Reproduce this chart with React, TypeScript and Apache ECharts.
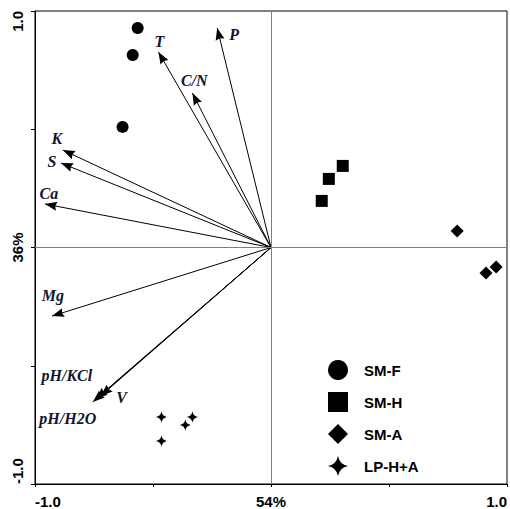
import React, { useEffect, useRef } from "react";
import * as echarts from "echarts";

// Environmental variable arrows (tips) and their label anchors
const arrowNames = ["P", "T", "C/N", "K", "S", "Ca", "Mg", "pH/KCl", "pH/H2O", "V"];
const arrowX = [-0.228, -0.477, -0.333, -0.882, -0.89, -0.958, -0.928, -0.743, -0.755, -0.722];
const arrowY = [0.928, 0.827, 0.653, 0.412, 0.357, 0.184, -0.29, -0.641, -0.653, -0.628];
const labelX = [-0.156, -0.473, -0.325, -0.907, -0.928, -0.941, -0.924, -0.865, -0.861, -0.633];
const labelY = [0.899, 0.869, 0.708, 0.463, 0.362, 0.23, -0.201, -0.543, -0.725, -0.636];

// Sample scores
const groupNames = ["SM-F", "SM-H", "SM-A", "LP-H+A"];
const smfX = [-0.565, -0.586, -0.629];
const smfY = [0.928, 0.814, 0.51];
const smhX = [0.304, 0.245, 0.215];
const smhY = [0.345, 0.29, 0.197];
const smaX = [0.789, 0.911, 0.954];
const smaY = [0.07, -0.108, -0.082];
const lpX = [-0.464, -0.464, -0.363, -0.333];
const lpY = [-0.717, -0.818, -0.751, -0.717];

// Axis tick labels
const xTickValues = [-1, 0, 1];
const xTickLabels = ["-1.0", "54%", "1.0"];
const yTickValues = [-1, 0, 1];
const yTickLabels = ["-1.0", "36%", "1.0"];

const STAR =
  "path://M0,-10 Q1.6,-1.6 10,0 Q1.6,1.6 0,10 Q-1.6,1.6 -10,0 Q-1.6,-1.6 0,-10 Z";
// arrowhead whose tip sits at the symbol centre
const HEAD = "path://M0,-12 M0,0 L4.5,12 L0,10.5 L-4.5,12 Z";

const zip = (xs: number[], ys: number[]) => xs.map((x, i) => [x, ys[i]]);

export default function App() {
  const ref = useRef<HTMLDivElement>(null);
  useEffect(() => {
    if (!ref.current) return;
    const chart = echarts.init(ref.current, null, { renderer: "svg" });
    const sans = "'Liberation Sans', Arial, sans-serif";
    const serif = "'Liberation Serif', 'Times New Roman', serif";
    const fmt = (vals: number[], labels: string[]) => (v: number) => {
      const i = vals.findIndex((t) => Math.abs(t - v) < 1e-9);
      return i >= 0 ? labels[i] : "";
    };
    const scatterBase = {
      type: "scatter" as const,
      itemStyle: { color: "#000", opacity: 1 },
      emphasis: { disabled: true },
      z: 5,
    };
    chart.setOption({
      animation: false,
      backgroundColor: "#fff",
      grid: {
        left: 35,
        right: 1,
        top: 11,
        bottom: 25,
        show: true,
        borderColor: "#000",
        borderWidth: 1,
      },
      xAxis: {
        type: "value",
        min: -1,
        max: 1,
        interval: 0.5,
        splitLine: { show: false },
        axisLine: { show: true, onZero: false, lineStyle: { color: "#000" } },
        axisTick: { show: true, length: 3, lineStyle: { color: "#000" } },
        axisLabel: {
          formatter: fmt(xTickValues, xTickLabels),
          fontFamily: sans,
          fontWeight: "bold",
          fontSize: 15,
          color: "#000",
          margin: 10,
          alignMinLabel: "left",
          alignMaxLabel: "right",
        },
      },
      yAxis: {
        type: "value",
        min: -1,
        max: 1,
        interval: 0.5,
        splitLine: { show: false },
        axisLine: { show: true, onZero: false, lineStyle: { color: "#000" } },
        axisTick: { show: true, length: 4, lineStyle: { color: "#000" } },
        axisLabel: {
          formatter: fmt(yTickValues, yTickLabels),
          rotate: 90,
          fontFamily: sans,
          fontWeight: "bold",
          fontSize: 15,
          color: "#000",
          margin: 10,
          alignMinLabel: "left",
          alignMaxLabel: "right",
        },
      },
      legend: {
        orient: "vertical",
        left: 323,
        top: 355,
        itemWidth: 20,
        itemHeight: 20,
        itemGap: 12,
        selectedMode: false,
        textStyle: {
          fontFamily: sans,
          fontWeight: "bold",
          fontSize: 15,
          color: "#000",
          padding: [0, 0, 0, 11],
        },
        data: [
          { name: groupNames[0], icon: "circle" },
          { name: groupNames[1], icon: "path://M0,0 L18,0 L18,18 L0,18 Z" },
          { name: groupNames[2], icon: "diamond" },
          { name: groupNames[3], icon: STAR },
        ],
      },
      series: [
        {
          type: "lines",
          coordinateSystem: "cartesian2d",
          symbol: ["none", HEAD],
          symbolSize: [1, [9, 24]],
          lineStyle: { color: "#000", width: 1, opacity: 1 },
          silent: true,
          z: 3,
          data: arrowNames.map((n, i) => ({ name: n, coords: [[0, 0], [arrowX[i], arrowY[i]]] })),
        },
        {
          type: "scatter",
          name: "arrowLabels",
          symbolSize: 0,
          silent: true,
          z: 6,
          itemStyle: { opacity: 1 },
          label: {
            show: true,
            position: "inside",
            formatter: (p: any) => p.name,
            fontFamily: serif,
            fontWeight: "bold",
            fontStyle: "italic",
            fontSize: 16,
            color: "#14142e",
          },
          data: arrowNames.map((n, i) => ({ name: n, value: [labelX[i], labelY[i]] })),
        },
        {
          ...scatterBase,
          name: groupNames[0],
          symbol: "circle",
          symbolSize: 12,
          data: zip(smfX, smfY),
          markLine: {
            silent: true,
            symbol: ["none", "none"],
            label: { show: false },
            lineStyle: { color: "#808080", type: "solid", width: 1 },
            data: [{ xAxis: 0 }, { yAxis: 0 }],
          },
        },
        { ...scatterBase, name: groupNames[1], symbol: "rect", symbolSize: 12, data: zip(smhX, smhY) },
        { ...scatterBase, name: groupNames[2], symbol: "diamond", symbolSize: 13, data: zip(smaX, smaY) },
        { ...scatterBase, name: groupNames[3], symbol: STAR, symbolSize: 11, data: zip(lpX, lpY) },
      ],
    });
    return () => chart.dispose();
  }, []);
  return <div ref={ref} style={{ width: 510, height: 509, position: "absolute", left: 0, top: 0 }} />;
}
